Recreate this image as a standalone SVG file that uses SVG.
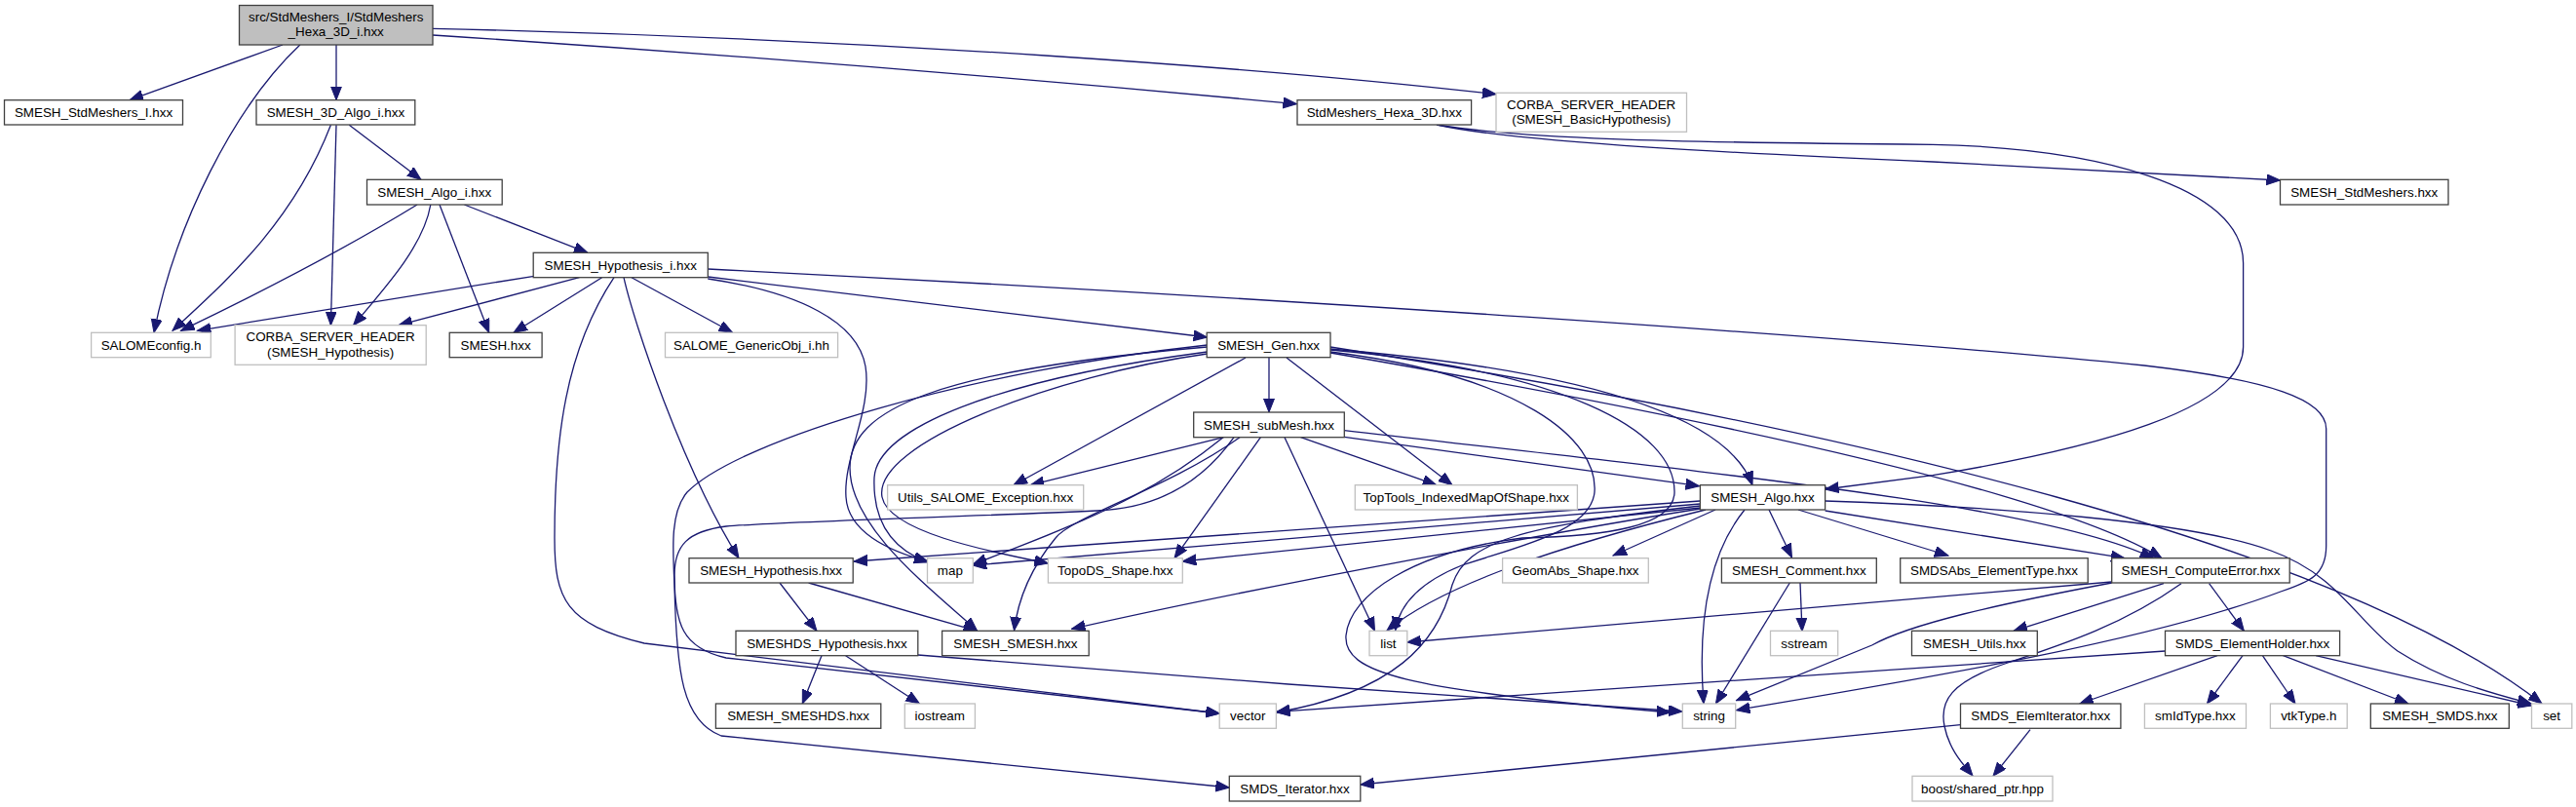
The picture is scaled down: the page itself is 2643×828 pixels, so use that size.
<svg xmlns="http://www.w3.org/2000/svg" width="2643" height="828" viewBox="0 0 2643 828">
<style>
.n rect{fill:#ffffff;stroke:#404040;stroke-width:1.3}
.g rect{fill:#ffffff;stroke:#bfbfbf;stroke-width:1.3}
.r rect{fill:#bfbfbf;stroke:#404040;stroke-width:1.3}
text{font-family:"Liberation Sans",Arial,sans-serif;font-size:13.4px;fill:#000;text-anchor:middle}
#edges path{fill:none;stroke:#191970;stroke-width:1.3;marker-end:url(#ah)}
</style>
<defs>
<marker id="ah" markerUnits="userSpaceOnUse" markerWidth="15" markerHeight="12" refX="14" refY="5.5" orient="auto"><path d="M0,0 L14,5.5 L0,11 z" fill="#191970" stroke="#191970" stroke-width="1"/></marker>
</defs>
<rect width="2643" height="828" fill="#ffffff"/>
<g id="edges">
<path d="M290,46 L133,102.7"/>
<path d="M345,46 L345,102.7"/>
<path d="M307.8,46 C240,110 180,230 158,341.3"/>
<path d="M444,36 Q900,66 1330.5,106.7"/>
<path d="M444,29.3 C900,40 1300,70 1535,96.7"/>
<path d="M339.4,128.3 C300,230 230,290 177,339.3"/>
<path d="M345,128.3 L339.4,333.7"/>
<path d="M358.3,128.3 L432,184.3"/>
<path d="M428,210 Q330,270 185.5,339.3"/>
<path d="M441.8,210 C435,250 400,290 362.6,333.7"/>
<path d="M451,210 L501.7,341.3"/>
<path d="M476.4,210 L602.9,259.3"/>
<path d="M548,283.3 L202.4,339.3"/>
<path d="M594.4,284.7 L409,333.7"/>
<path d="M617.6,284.7 L527,341.3"/>
<path d="M648,284.7 L751.6,341.3"/>
<path d="M726.3,284 L1238.6,346"/>
<path d="M726.3,276 C1300,305 1900,345 2200,375 C2330,390 2386.7,410 2386.7,440 L2386.7,560 C2386.7,590 2370,597 2340,607 C2200,660 1950,700 1781.5,728.7"/>
<path d="M640,284.7 C650,330 700,480 758,572.7"/>
<path d="M630,284.7 C580,360 569,450 569,552 C569,615 580,640 661,660 L1251.2,732"/>
<path d="M726.3,286 C820,300 880,330 888,376 C895,420 865,470 868,510 C870,545 910,565 952,576"/>
<path d="M1474,128 C1560,147 1800,158 1983,166 L2339.5,185"/>
<path d="M1474,128 C1560,142 1700,146 1983,148.3 C2150,152 2301.6,190 2301.6,270 L2301.6,356 C2301.6,420 2150,460 1983,487.7 L1872.6,502"/>
<path d="M1302,367 L1302,423"/>
<path d="M1278,367 L1040,497.7"/>
<path d="M1320,367 L1490,497.7"/>
<path d="M1365,358 C1600,378 1770,420 1798,497.7"/>
<path d="M1365,362 C1700,420 2100,500 2218,572.7"/>
<path d="M1365,356 C1900,440 2400,560 2608,722"/>
<path d="M1238.6,356 C960,380 872,420 872,480 C872,540 950,600 1002.5,647"/>
<path d="M1238.6,361 C1019,390 900,440 897,490 C895,540 920,565 952,577"/>
<path d="M1238.6,363 C1082,385 895,455 905,510 C912,545 1010,565 1075.4,578"/>
<path d="M1238.6,354 C1000,380 760,450 705,505 C688,525 690,560 692,600 C694,690 700,740 740,755 L1261.3,808"/>
<path d="M1365,361 C1560,385 1640,450 1636,505 C1632,545 1560,560 1500,580 C1450,600 1435,625 1431.6,647"/>
<path d="M1365,359 C1600,380 1720,440 1718,506 C1716,540 1650,550 1562,552 C1450,566 1385,610 1381,652 C1378,690 1440,708 1714,731"/>
<path d="M1255.4,448.7 L1057.3,497.7"/>
<path d="M1334.6,448.7 L1473.8,497.7"/>
<path d="M1379.3,448.3 L1743.6,498.7"/>
<path d="M1379.3,441.7 C1800,490 2100,520 2209.6,572.7"/>
<path d="M1318,448.7 L1410.5,647.3"/>
<path d="M1255,448.7 C1180,510 1100,540 998.3,579"/>
<path d="M1272,448.7 C1200,500 1100,530 1083,552 C1060,580 1045,610 1040.5,647"/>
<path d="M1293.4,448.7 L1205,572.7"/>
<path d="M1266,448.7 C1230,500 1180,522 1125,524 C1000,530 800,535 745,540 C705,545 692,560 692,590 C692,640 700,665 745,675 L1251.2,732"/>
<path d="M1744.4,514 L876,576"/>
<path d="M1744.4,517 L998.3,580"/>
<path d="M1744.4,521 L1213.3,576"/>
<path d="M1744.4,522 C1600,545 1300,600 1099.5,645.3"/>
<path d="M1760,523 L1655,570"/>
<path d="M1815,523 L1838.5,572"/>
<path d="M1790,523 C1760,560 1740,620 1748,722"/>
<path d="M1845,523 L1999,570"/>
<path d="M1872.6,524 L2180,572.7"/>
<path d="M1872.6,514 C2050,520 2250,535 2330,565 C2400,590 2420,640 2460,668 C2510,700 2560,712 2597,722"/>
<path d="M1750,523 C1600,560 1480,600 1423,647"/>
<path d="M1744.4,519 C1560,540 1505,555 1490,600 C1475,660 1430,710 1309.4,731"/>
<path d="M800,598 L838,647.3"/>
<path d="M829.6,598 L1002.5,647.3"/>
<path d="M843,672.7 L823.3,722"/>
<path d="M867.6,672.7 L943.5,722"/>
<path d="M941.8,672 L1322,702 L1726,730"/>
<path d="M1836.3,598 L1760.4,722"/>
<path d="M1847,598 L1849,647.7"/>
<path d="M2166.7,597 L1443.8,659"/>
<path d="M2166.7,598 C2050,620 1960,640 1920.6,662 L1781.5,718.7"/>
<path d="M2220,598.7 L2066,647.3"/>
<path d="M2238,598.7 C2180,640 2120,660 2060,680 C2000,700 1990,720 1995,745 C2000,770 2015,785 2024,796"/>
<path d="M2266.6,598.7 L2302.4,647.3"/>
<path d="M2275,672.7 L2133.8,722"/>
<path d="M2301,672.7 L2264.5,722"/>
<path d="M2321.4,672.7 L2355,722"/>
<path d="M2342.5,672.7 L2471,722"/>
<path d="M2376,672.7 L2597.5,724"/>
<path d="M2221.5,668 L1309.4,730.3"/>
<path d="M2011.5,743.7 L1395.8,805"/>
<path d="M2083,748.7 L2045,796.3"/>
</g>
<g id="n1" class="r"><rect x="245.5" y="5.5" width="198.5" height="40.5"/><text x="344.7" y="21.8">src/StdMeshers_I/StdMeshers</text><text x="344.7" y="37.3">_Hexa_3D_i.hxx</text></g>
<g id="n2" class="n"><rect x="4.5" y="102.7" width="183" height="25.3"/><text x="96" y="120">SMESH_StdMeshers_I.hxx</text></g>
<g id="n3" class="n"><rect x="263" y="102.7" width="162.8" height="25.3"/><text x="344.4" y="120">SMESH_3D_Algo_i.hxx</text></g>
<g id="n4" class="n"><rect x="1331" y="102.7" width="178.6" height="25.3"/><text x="1420.3" y="120">StdMeshers_Hexa_3D.hxx</text></g>
<g id="n5" class="g"><rect x="1535" y="95.3" width="195.5" height="40"/><text x="1632.7" y="111.5">CORBA_SERVER_HEADER</text><text x="1632.7" y="127">(SMESH_BasicHypothesis)</text></g>
<g id="n6" class="n"><rect x="376.5" y="184.3" width="138.7" height="25.7"/><text x="445.8" y="201.8">SMESH_Algo_i.hxx</text></g>
<g id="n7" class="n"><rect x="2339.5" y="184.3" width="172.5" height="25.7"/><text x="2425.7" y="201.8">SMESH_StdMeshers.hxx</text></g>
<g id="n8" class="n"><rect x="547.2" y="259.3" width="179.1" height="25.4"/><text x="636.7" y="276.8">SMESH_Hypothesis_i.hxx</text></g>
<g id="n9" class="g"><rect x="93.6" y="341.3" width="122.7" height="25.4"/><text x="155" y="358.8">SALOMEconfig.h</text></g>
<g id="n10" class="g"><rect x="241.1" y="333.7" width="196.1" height="40.6"/><text x="339.1" y="350">CORBA_SERVER_HEADER</text><text x="339.1" y="365.5">(SMESH_Hypothesis)</text></g>
<g id="n11" class="n"><rect x="461.2" y="341.3" width="94.9" height="25.4"/><text x="508.6" y="358.8">SMESH.hxx</text></g>
<g id="n12" class="g"><rect x="682.5" y="341.3" width="177.1" height="25.4"/><text x="771" y="358.8">SALOME_GenericObj_i.hh</text></g>
<g id="n13" class="n"><rect x="1238.2" y="341.3" width="126.8" height="25.4"/><text x="1301.6" y="358.8">SMESH_Gen.hxx</text></g>
<g id="n14" class="n"><rect x="1224.7" y="423" width="154.6" height="25.7"/><text x="1302" y="440.5">SMESH_subMesh.hxx</text></g>
<g id="n15" class="g"><rect x="910.6" y="497.7" width="201.1" height="25.3"/><text x="1011.1" y="515">Utils_SALOME_Exception.hxx</text></g>
<g id="n16" class="g"><rect x="1390.3" y="497.7" width="228.1" height="25.3"/><text x="1504.3" y="515">TopTools_IndexedMapOfShape.hxx</text></g>
<g id="n17" class="n"><rect x="1744.4" y="497.7" width="128.2" height="25.3"/><text x="1808.5" y="515">SMESH_Algo.hxx</text></g>
<g id="n18" class="n"><rect x="707" y="572.7" width="168.2" height="25.3"/><text x="791.1" y="590">SMESH_Hypothesis.hxx</text></g>
<g id="n19" class="g"><rect x="951.5" y="572.7" width="46.8" height="25.3"/><text x="974.9" y="590">map</text></g>
<g id="n20" class="g"><rect x="1075.4" y="572.7" width="137.9" height="25.3"/><text x="1144.3" y="590">TopoDS_Shape.hxx</text></g>
<g id="n21" class="g"><rect x="1541.6" y="572.7" width="149.7" height="25.3"/><text x="1616.4" y="590">GeomAbs_Shape.hxx</text></g>
<g id="n22" class="n"><rect x="1766.4" y="572.7" width="158.9" height="25.3"/><text x="1845.8" y="590">SMESH_Comment.hxx</text></g>
<g id="n23" class="n"><rect x="1949.7" y="572.7" width="192.5" height="25.3"/><text x="2046" y="590">SMDSAbs_ElementType.hxx</text></g>
<g id="n24" class="n"><rect x="2166.7" y="572.7" width="182.5" height="25.3"/><text x="2258" y="590">SMESH_ComputeError.hxx</text></g>
<g id="n25" class="n"><rect x="755" y="647.3" width="186.8" height="25.4"/><text x="848.4" y="664.8">SMESHDS_Hypothesis.hxx</text></g>
<g id="n26" class="n"><rect x="966.6" y="647.3" width="150.6" height="25.4"/><text x="1041.9" y="664.8">SMESH_SMESH.hxx</text></g>
<g id="n27" class="g"><rect x="1405" y="647.3" width="38.8" height="25.4"/><text x="1424.4" y="664.8">list</text></g>
<g id="n28" class="g"><rect x="1816.5" y="647.3" width="69.2" height="25.4"/><text x="1851.1" y="664.8">sstream</text></g>
<g id="n29" class="n"><rect x="1961.5" y="647.3" width="128.8" height="25.4"/><text x="2025.9" y="664.8">SMESH_Utils.hxx</text></g>
<g id="n30" class="n"><rect x="2221.5" y="647.3" width="179.1" height="25.4"/><text x="2311" y="664.8">SMDS_ElementHolder.hxx</text></g>
<g id="n31" class="n"><rect x="734.4" y="722" width="169.4" height="25.3"/><text x="819.1" y="739.3">SMESH_SMESHDS.hxx</text></g>
<g id="n32" class="g"><rect x="928.3" y="722" width="72.1" height="25.3"/><text x="964.3" y="739.3">iostream</text></g>
<g id="n33" class="g"><rect x="1251.2" y="722" width="58.2" height="25.3"/><text x="1280.3" y="739.3">vector</text></g>
<g id="n34" class="g"><rect x="1726.3" y="722" width="54.4" height="25.3"/><text x="1753.5" y="739.3">string</text></g>
<g id="n35" class="n"><rect x="2011.5" y="722" width="164.4" height="25.3"/><text x="2093.7" y="739.3">SMDS_ElemIterator.hxx</text></g>
<g id="n36" class="g"><rect x="2200.4" y="722" width="104.1" height="25.3"/><text x="2252.4" y="739.3">smIdType.hxx</text></g>
<g id="n37" class="g"><rect x="2329.4" y="722" width="78.8" height="25.3"/><text x="2368.8" y="739.3">vtkType.h</text></g>
<g id="n38" class="n"><rect x="2432.3" y="722" width="142" height="25.3"/><text x="2503.3" y="739.3">SMESH_SMDS.hxx</text></g>
<g id="n39" class="g"><rect x="2597.5" y="722" width="41.3" height="25.3"/><text x="2618.1" y="739.3">set</text></g>
<g id="n40" class="n"><rect x="1261.3" y="796.3" width="134.5" height="25.7"/><text x="1328.5" y="813.8">SMDS_Iterator.hxx</text></g>
<g id="n41" class="g"><rect x="1962" y="796.3" width="144" height="25.7"/><text x="2034" y="813.8">boost/shared_ptr.hpp</text></g>
</svg>
